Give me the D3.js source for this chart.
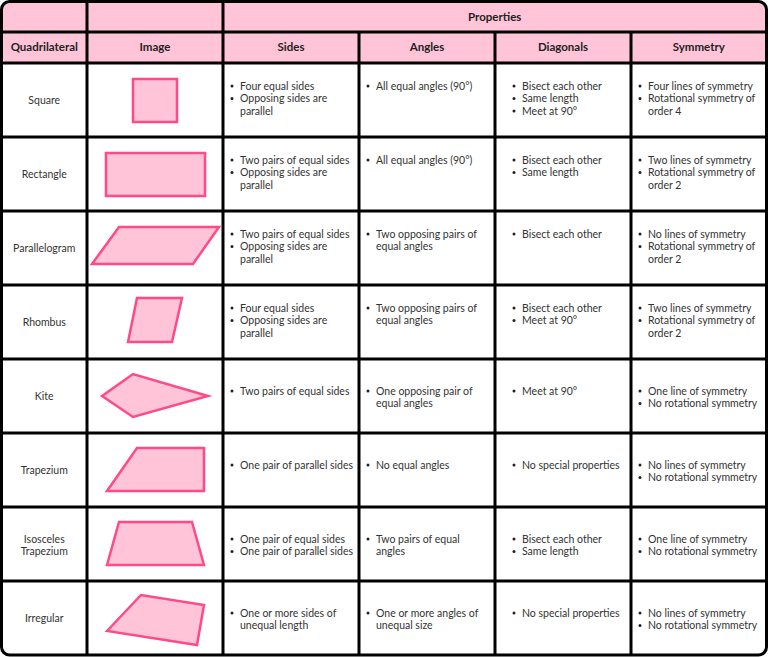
<!DOCTYPE html>
<html>
<head>
<meta charset="utf-8">
<script src="https://cdn.jsdelivr.net/npm/d3@7"></script>
<style>
  html, body { margin: 0; padding: 0; background: #fff; }
  svg { display: block; font-family: Lato, "Noto Sans", sans-serif; }
</style>
</head>
<body>
<svg id="chart" width="768" height="657"></svg>
<script>
// ---- data ----
var headers = ["Quadrilateral", "Image", "Sides", "Angles", "Diagonals", "Symmetry"];
var groupHeader = "Properties";

var names = ["Square", "Rectangle", "Parallelogram", "Rhombus", "Kite", "Trapezium", "Isosceles|Trapezium", "Irregular"];

// "|" marks a wrapped line inside one bullet
var sides = [
    ["Four equal sides", "Opposing sides are|parallel"],
    ["Two pairs of equal sides", "Opposing sides are|parallel"],
    ["Two pairs of equal sides", "Opposing sides are|parallel"],
    ["Four equal sides", "Opposing sides are|parallel"],
    ["Two pairs of equal sides"],
    ["One pair of parallel sides"],
    ["One pair of equal sides", "One pair of parallel sides"],
    ["One or more sides of|unequal length"]
];
var angles = [
    ["All equal angles (90°)"],
    ["All equal angles (90°)"],
    ["Two opposing pairs of|equal angles"],
    ["Two opposing pairs of|equal angles"],
    ["One opposing pair of|equal angles"],
    ["No equal angles"],
    ["Two pairs of equal|angles"],
    ["One or more angles of|unequal size"]
];
var diagonals = [
    ["Bisect each other", "Same length", "Meet at 90°"],
    ["Bisect each other", "Same length"],
    ["Bisect each other"],
    ["Bisect each other", "Meet at 90°"],
    ["Meet at 90°"],
    ["No special properties"],
    ["Bisect each other", "Same length"],
    ["No special properties"]
];
var symmetry = [
    ["Four lines of symmetry", "Rotational symmetry of|order 4"],
    ["Two lines of symmetry", "Rotational symmetry of|order 2"],
    ["No lines of symmetry", "Rotational symmetry of|order 2"],
    ["Two lines of symmetry", "Rotational symmetry of|order 2"],
    ["One line of symmetry", "No rotational symmetry"],
    ["No lines of symmetry", "No rotational symmetry"],
    ["One line of symmetry", "No rotational symmetry"],
    ["No lines of symmetry", "No rotational symmetry"]
];

// shape outlines, in units around the image cell centre
var shapes = [
    [[-22, -21], [22, -21], [22, 22], [-22, 22]],
    [[-49, -21], [50, -21], [50, 22], [-49, 22]],
    [[-63, 16], [-36, -21], [64, -21], [38, 16]],
    [[-27, 20], [-18, -24], [27, -24], [17, 20]],
    [[-53, 0], [-22, -22], [53, 0], [-22, 21]],
    [[-48, 21], [-18, -22], [49, -22], [49, 21]],
    [[-48, 21], [-36, -22], [37, -22], [49, 21]],
    [[-48, 13], [-14, -23], [49, -13], [42, 27]]
];

// ---- layout ----
var colEdges = [1.5, 87, 223, 359, 495, 631, 766.5];
var headerTop = 1.5, headerMid = 32, headerBottom = 63, bottom = 655;
var pink = "#ffc4d8", shapePink = "#ffc4d8", shapeStroke = "#ff4a84";
var lineH = 12.5;
var bulletIndent = [0, 0, 9, 9, 19, 9];
var textIndent = [0, 0, 17, 17, 27, 17];
var bodySize = '10.5px', headSize = '11.5px';

var svg = d3.select('#chart');

var rowY = d3.scaleBand()
    .domain(d3.range(names.length))
    .range([headerBottom, bottom]);

// header backgrounds
svg.append('rect')
    .attr('x', colEdges[0]).attr('y', headerTop)
    .attr('width', colEdges[6] - colEdges[0])
    .attr('height', headerBottom - headerTop)
    .attr('rx', 8)
    .style('fill', pink);

// header texts
svg.append('text')
    .attr('x', (colEdges[2] + colEdges[6]) / 2)
    .attr('y', (headerTop + headerMid) / 2 + 1)
    .attr('text-anchor', 'middle')
    .attr('dominant-baseline', 'middle')
    .style('font-size', headSize).style('font-weight', 'bold').style('fill', '#222')
    .text(groupHeader);

svg.selectAll('text.head')
    .data(headers)
    .enter().append('text')
    .attr('class', 'head')
    .attr('x', function(d, i){ return (colEdges[i] + colEdges[i + 1]) / 2; })
    .attr('y', (headerMid + headerBottom) / 2 + 1)
    .attr('text-anchor', 'middle')
    .attr('dominant-baseline', 'middle')
    .style('font-size', headSize).style('font-weight', 'bold').style('fill', '#222')
    .text(function(d){ return d; });

// shapes
var ux = d3.scaleLinear().domain([-1, 1]).range([-1, 1]);
var imgCx = (colEdges[1] + colEdges[2]) / 2;
svg.selectAll('polygon.shape')
    .data(shapes)
    .enter().append('polygon')
    .attr('class', 'shape')
    .attr('points', function(pts, i){
        var cy = rowY(i) + rowY.bandwidth() / 2;
        return pts.map(function(p){ return (imgCx + ux(p[0])) + ',' + (cy + ux(p[1])); }).join(' ');
    })
    .style('fill', shapePink)
    .style('stroke', shapeStroke)
    .style('stroke-width', 2.5)
    .style('stroke-linejoin', 'miter');

// names
names.forEach(function(name, i){
    var parts = name.split('|');
    var cy = rowY(i) + rowY.bandwidth() / 2 + (parts.length > 1 ? 1 : 0);
    var t = svg.append('text')
        .attr('text-anchor', 'middle')
        .style('font-size', bodySize).style('fill', '#333');
    parts.forEach(function(p, k){
        t.append('tspan')
            .attr('x', (colEdges[0] + colEdges[1]) / 2)
            .attr('y', cy + 4 + (k - (parts.length - 1) / 2) * lineH)
            .text(p);
    });
});

// bullet columns
var columns = [sides, angles, diagonals, symmetry];
function lineCount(items){
    return d3.sum(items, function(s){ return s.split('|').length; });
}
names.forEach(function(n, r){
    var maxLines = d3.max(columns, function(c){ return lineCount(c[r]); });
    var cy = rowY(r) + rowY.bandwidth() / 2;
    // block sits a little high in its cell
    var first = cy - 5 - (maxLines - 2) * 9;
    columns.forEach(function(col, c){
        var ci = c + 2;
        var line = 0;
        col[r].forEach(function(item){
            var parts = item.split('|');
            svg.append('circle')
                .attr('cx', colEdges[ci] + bulletIndent[ci])
                .attr('cy', first + line * lineH)
                .attr('r', 1.5)
                .style('fill', '#222');
            parts.forEach(function(p){
                svg.append('text')
                    .attr('x', colEdges[ci] + textIndent[ci])
                    .attr('y', first + line * lineH + 3.8)
                    .style('font-size', bodySize).style('fill', '#333')
                    .text(p);
                line++;
            });
        });
    });
});

// grid lines
var grid = svg.append('g').style('stroke', '#000').style('stroke-width', 3);
grid.selectAll('line.h')
    .data([headerMid, headerBottom].concat(d3.range(1, names.length).map(function(i){ return rowY(i); })))
    .enter().append('line')
    .attr('x1', colEdges[0]).attr('x2', colEdges[6])
    .attr('y1', function(d){ return d; }).attr('y2', function(d){ return d; });
grid.selectAll('line.v')
    .data(colEdges.slice(1, 6))
    .enter().append('line')
    .attr('x1', function(d){ return d; }).attr('x2', function(d){ return d; })
    .attr('y1', function(d, i){ return i < 2 ? headerTop : headerMid; })
    .attr('y2', bottom);

svg.append('rect')
    .attr('x', colEdges[0]).attr('y', headerTop)
    .attr('width', colEdges[6] - colEdges[0])
    .attr('height', bottom - headerTop)
    .attr('rx', 8)
    .style('fill', 'none')
    .style('stroke', '#000')
    .style('stroke-width', 3);
</script>
</body>
</html>
